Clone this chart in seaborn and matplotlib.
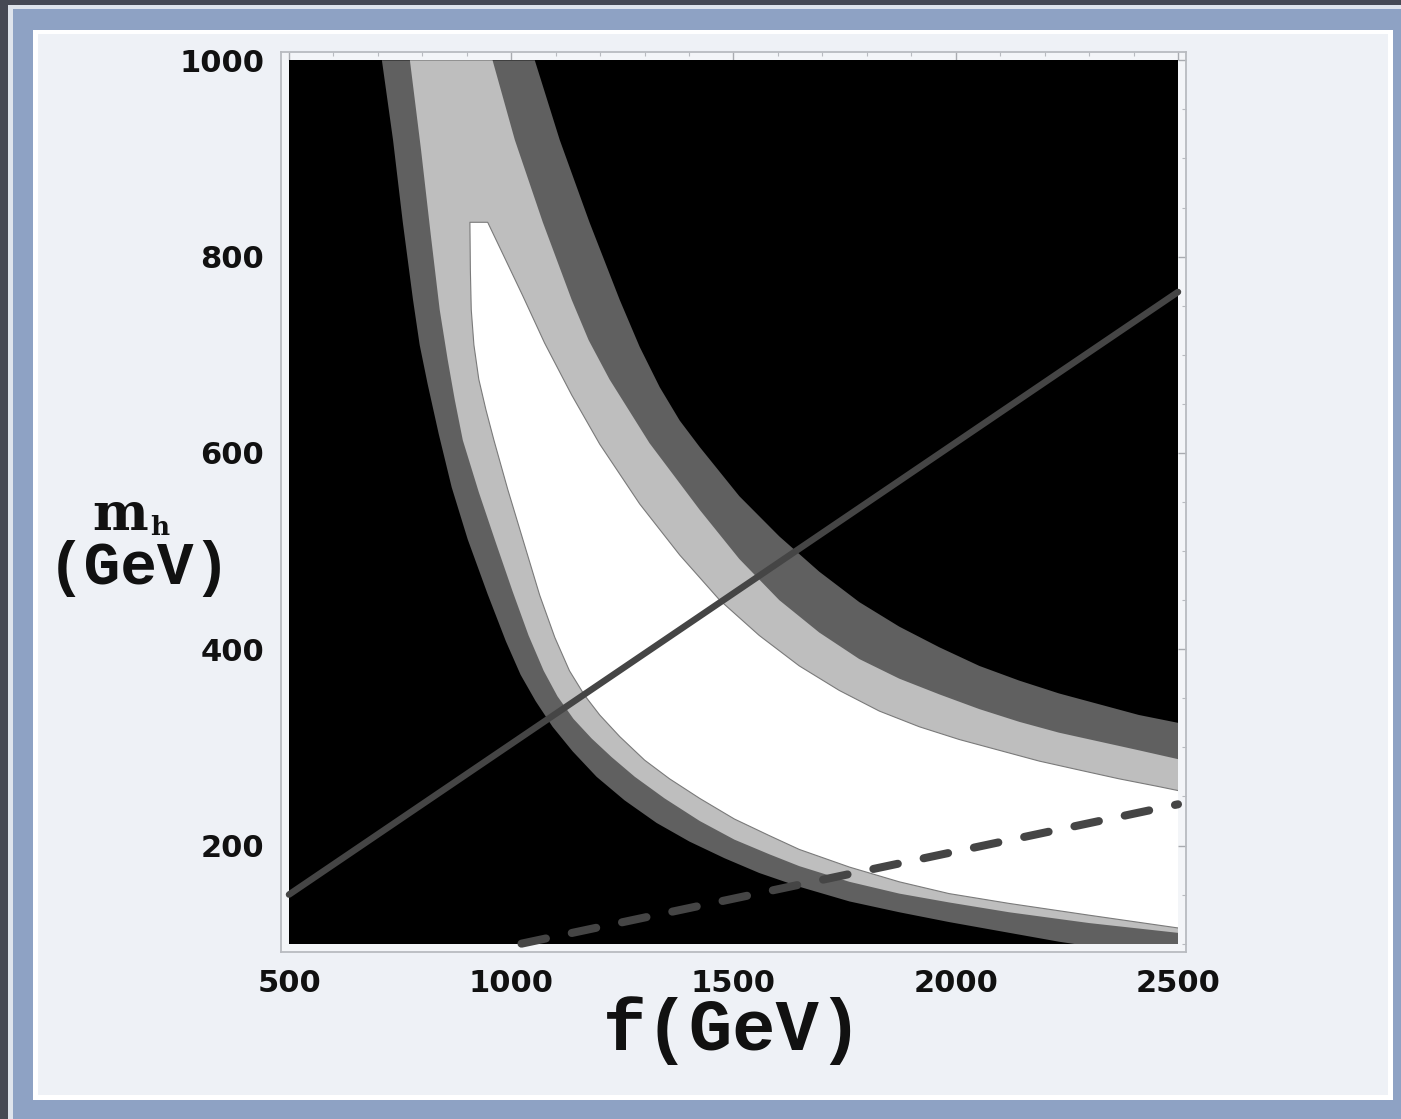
import numpy as np
import pandas as pd
import matplotlib
matplotlib.use("Agg")
import matplotlib.pyplot as plt
from matplotlib.patches import Rectangle
from matplotlib.ticker import MultipleLocator
import seaborn as sns

# ---------------- data (f and m_h in GeV) ----------------
# band boundaries, each listed from the top of the plot down to f = 2500
outer_low_f = [709, 734, 756, 779, 794, 812, 837, 866, 902, 947, 988, 1021, 1055, 1093, 1138, 1192,
               1255, 1327, 1401, 1480, 1558, 1648, 1761, 1873, 1985, 2232, 2500]
outer_low_m = [1000, 919, 835, 756, 710, 670, 619, 565, 512, 456, 408, 374, 347, 321, 296, 270,
               246, 223, 204, 187, 172, 158, 143, 132, 122, 102, 84]

mid_low_f = [772, 797, 819, 839, 857, 873, 891, 927, 965, 1003, 1039, 1073, 1104, 1140, 1181, 1226,
             1278, 1345, 1424, 1502, 1581, 1648, 1761, 1873, 1985, 2120, 2300, 2500]
mid_low_m = [1000, 909, 822, 746, 695, 654, 613, 560, 509, 459, 414, 378, 352, 329, 309, 290,
             270, 248, 225, 206, 191, 179, 163, 151, 142, 132, 121, 111]

inner_low_f = [907, 908, 910, 916, 927, 943, 961, 992, 1026, 1064, 1098, 1131, 1165, 1199, 1244,
               1300, 1356, 1424, 1502, 1581, 1648, 1761, 1873, 1985, 2120, 2300, 2500]
inner_low_m = [835, 787, 746, 710, 675, 644, 613, 563, 512, 455, 412, 378, 353, 333, 311,
               287, 268, 248, 227, 210, 196, 178, 163, 151, 141, 129, 116]

inner_up_f = [947, 985, 1026, 1075, 1136, 1199, 1289, 1379, 1469, 1558, 1648, 1738, 1828, 1918,
              2008, 2098, 2188, 2277, 2367, 2457, 2500]
inner_up_m = [835, 799, 760, 712, 659, 609, 548, 496, 450, 414, 383, 358, 337, 321,
              308, 297, 286, 277, 268, 260, 256]

mid_up_f = [958, 1008, 1071, 1136, 1174, 1221, 1311, 1424, 1513, 1603, 1693, 1783, 1873, 1963,
            2053, 2143, 2232, 2322, 2412, 2500]
mid_up_m = [1000, 919, 835, 756, 715, 675, 610, 542, 492, 450, 417, 390, 370, 354,
            339, 326, 315, 306, 297, 288]

outer_up_f = [1053, 1109, 1176, 1244, 1289, 1334, 1379, 1424, 1513, 1603, 1693, 1783, 1873, 1963,
              2053, 2143, 2232, 2322, 2412, 2500]
outer_up_m = [1000, 919, 835, 756, 708, 667, 633, 606, 556, 515, 479, 448, 423, 402,
              383, 368, 355, 344, 333, 325]

solid_f = [500, 2500]
solid_m = [150, 764]
dashed_f = [1023, 2500]
dashed_m = [100, 242]

x_ticks = [500, 1000, 1500, 2000, 2500]
y_ticks = [200, 400, 600, 800, 1000]
x_range = (500, 2500)
y_range = (100, 1000)

# ---------------- figure ----------------
sns.set_style("white")
plt.rcParams["font.family"] = ["DejaVu Sans"]
plt.rcParams["lines.scale_dashes"] = False

W, H = 1401, 1119
fig = plt.figure(figsize=(W / 100, H / 100), dpi=100)


def frect(x0, y0, x1, y1, c):
    fig.patches.append(Rectangle((x0 / W, 1 - y1 / H), (x1 - x0) / W, (y1 - y0) / H,
                                 transform=fig.transFigure, facecolor=c, lw=0, zorder=-10))


frect(0, 0, W, H, "#464954")
frect(8, 5, W + 5, H + 5, "#dfe4ec")
frect(13, 9, W + 5, H + 5, "#8ea2c4")
frect(33, 30, 1393, 1100, "#ffffff")
frect(38, 34, 1388, 1095, "#eef1f6")

ax = fig.add_axes([281 / W, 1 - 952 / H, (1186 - 281) / W, (952 - 52) / H])
ax.set_facecolor("#f3f5f8")

bg = Rectangle((x_range[0], y_range[0]), x_range[1] - x_range[0], y_range[1] - y_range[0],
               facecolor="black", lw=0, zorder=1)
ax.add_patch(bg)


def band(lf, lm, uf, um, color, z):
    xs = list(lf) + list(uf)[::-1]
    ys = list(lm) + list(um)[::-1]
    polys = ax.fill(xs, ys, facecolor=color, edgecolor="none", lw=0, zorder=z)
    for p in polys:
        p.set_clip_path(bg)


band(outer_low_f, outer_low_m, outer_up_f, outer_up_m, "#606060", 2)
band(mid_low_f, mid_low_m, mid_up_f, mid_up_m, "#bebebe", 3)
band(inner_low_f, inner_low_m, inner_up_f, inner_up_m, "#ffffff", 4)

outline_f = list(inner_low_f)[::-1] + list(inner_up_f)
outline_m = list(inner_low_m)[::-1] + list(inner_up_m)
ln, = ax.plot(outline_f, outline_m, color="#7a7a7a", lw=0.8, zorder=5)
ln.set_clip_path(bg)
ln.set_solid_joinstyle("round")

sns.lineplot(x=solid_f, y=solid_m, ax=ax, color="#454545", linewidth=4.7, zorder=6)
ax.lines[-1].set_solid_capstyle("round")
sns.lineplot(x=dashed_f, y=dashed_m, ax=ax, color="#454545", linewidth=5.8, zorder=6)
dl = ax.lines[-1]
dl.set_dashes([18, 19])
dl.set_dash_capstyle("round")

pad_x = 18
pad_y = 8.5
ax.set_xlim(x_range[0] - pad_x, x_range[1] + pad_x)
ax.set_ylim(y_range[0] - pad_y, y_range[1] + pad_y)
ax.set_xticks(x_ticks)
ax.set_yticks(y_ticks)
ax.xaxis.set_minor_locator(MultipleLocator(100))
ax.yaxis.set_minor_locator(MultipleLocator(50))
ax.tick_params(which="major", direction="in", length=6, width=1, color="#a8abb0",
               top=True, right=True, labelsize=22, pad=12)
ax.tick_params(which="minor", direction="in", length=3, width=0.8, color="#b8bbc0",
               top=True, right=True)
for lbl in ax.get_xticklabels() + ax.get_yticklabels():
    lbl.set_fontweight("bold")
    lbl.set_color("#111111")
for s in ax.spines.values():
    s.set_color("#b8bbc0")
    s.set_linewidth(1.3)
ax.set_xlabel("")
ax.set_ylabel("")

mono = ["Liberation Mono", "DejaVu Sans Mono"]
serif = ["DejaVu Serif"]
fig.text(733 / W, 1 - 1031 / H, "f(GeV)", family=mono, fontweight="bold", fontsize=52,
         ha="center", va="center", color="#111111")
fig.text(120 / W, 1 - 530 / H, "m", family=serif, fontweight="bold", fontsize=38,
         ha="center", va="baseline", color="#111111")
fig.text(160 / W, 1 - 535 / H, "h", family=serif, fontweight="bold", fontsize=19,
         ha="center", va="baseline", color="#111111")
fig.text(139 / W, 1 - 568 / H, "(GeV)", family=mono, fontweight="bold", fontsize=44,
         ha="center", va="center", color="#111111")

fig.savefig("out.png", dpi=100)
